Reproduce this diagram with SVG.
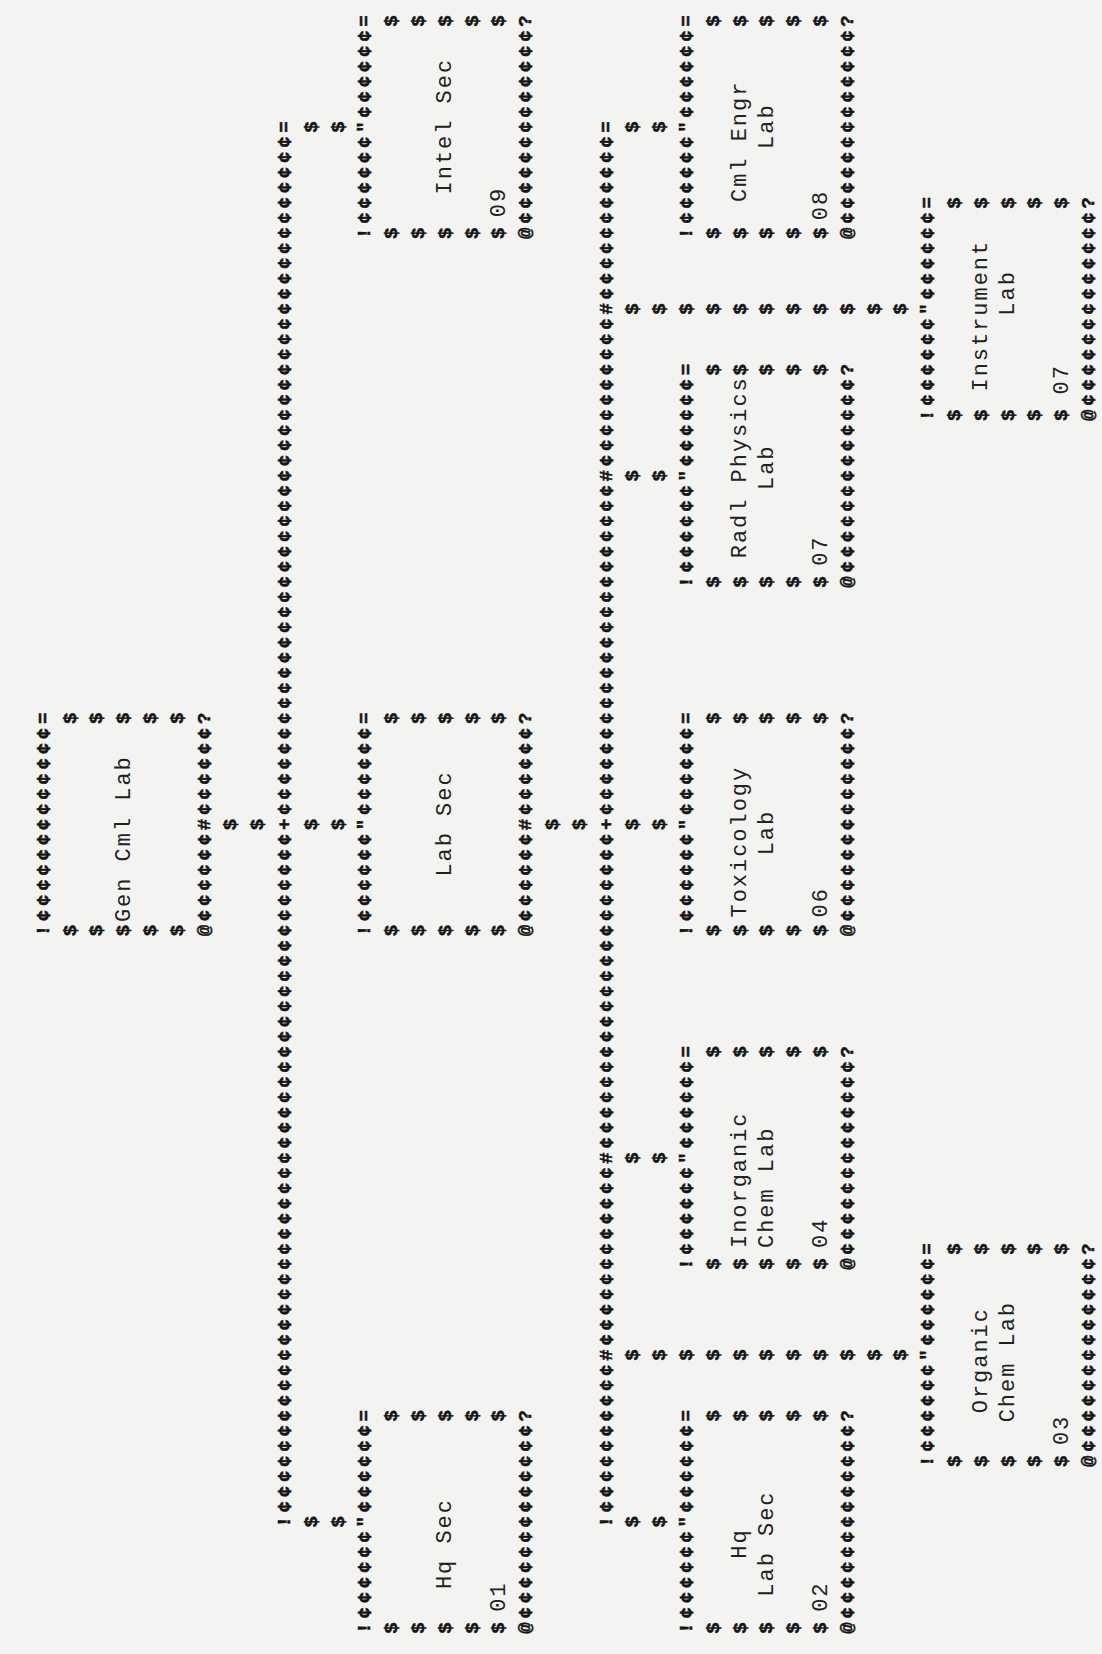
<svg xmlns="http://www.w3.org/2000/svg" width="1102" height="1654" viewBox="0 0 1102 1654">
<style>
.b{font-family:"Liberation Mono","DejaVu Sans Mono",monospace;font-size:19px;font-weight:bold;fill:#151515;stroke:#151515;stroke-width:0.5px;letter-spacing:3.76px;dominant-baseline:central}
.s{font-family:"Liberation Mono","DejaVu Sans Mono",monospace;font-size:19px;font-weight:bold;fill:#151515;stroke:#151515;stroke-width:0.5px;text-anchor:middle;dominant-baseline:central}
.l{font-family:"Liberation Mono","DejaVu Sans Mono",monospace;font-size:22px;fill:#222;letter-spacing:1.96px;dominant-baseline:central}
</style>
<rect width="1102" height="1654" fill="#f3f3f1"/>
<g id="diagram" transform="translate(0,824.5) rotate(-90)">
<g id="connectors">
<text class="s" x="0 0" y="231.4 258.2">$$</text>
<text class="b" x="-703.06" y="285">!¢¢¢¢¢¢¢¢¢¢¢¢¢¢¢¢¢¢¢¢¢¢¢¢¢¢¢¢¢¢¢¢¢¢¢¢¢¢¢¢¢¢¢¢¢+¢¢¢¢¢¢¢¢¢¢¢¢¢¢¢¢¢¢¢¢¢¢¢¢¢¢¢¢¢¢¢¢¢¢¢¢¢¢¢¢¢¢¢¢¢=</text>
<text class="s" x="-697.36 0 697.36 -697.36 0 697.36" y="311.8 311.8 311.8 338.6 338.6 338.6">$$$$$$</text>
<text class="s" x="0 0" y="553 579.8">$$</text>
<text class="b" x="-703.06" y="606.6">!¢¢¢¢¢¢¢¢¢¢#¢¢¢¢¢¢¢¢¢¢¢¢#¢¢¢¢¢¢¢¢¢¢¢¢¢¢¢¢¢¢¢¢¢+¢¢¢¢¢¢¢¢¢¢¢¢¢¢¢¢¢¢¢¢¢¢#¢¢¢¢¢¢¢¢¢¢#¢¢¢¢¢¢¢¢¢¢¢=</text>
<text class="s" x="-697.36 -333.52 0 348.68 697.36 -697.36 -333.52 0 348.68 697.36" y="633.4 633.4 633.4 633.4 633.4 660.2 660.2 660.2 660.2 660.2">$$$$$$$$$$</text>
<text class="s" x="-530.6 -530.6 -530.6 -530.6 -530.6 -530.6 -530.6 -530.6 -530.6 -530.6 -530.6" y="633.4 660.2 687 713.8 740.6 767.4 794.2 821 847.8 874.6 901.4">$$$$$$$$$$$</text>
<text class="s" x="515.44 515.44 515.44 515.44 515.44 515.44 515.44 515.44 515.44 515.44 515.44" y="633.4 660.2 687 713.8 740.6 767.4 794.2 821 847.8 874.6 901.4">$$$$$$$$$$$</text>
</g>
<g id="node-gen-cml-lab">
<text class="b" x="-111.82" y="43.8">!¢¢¢¢¢¢¢¢¢¢¢¢¢=</text>
<text class="s" x="-106.12 106.12 -106.12 106.12 -106.12 106.12 -106.12 106.12 -106.12 106.12" y="70.6 70.6 97.4 97.4 124.2 124.2 151 151 177.8 177.8">$$$$$$$$$$</text>
<text class="b" x="-111.82" y="204.6">@¢¢¢¢¢¢#¢¢¢¢¢¢?</text>
<text class="l" x="-97.56" y="124.2">Gen Cml Lab</text>
</g>
<g id="node-hq-sec">
<text class="b" x="-809.18" y="365.4">!¢¢¢¢¢¢"¢¢¢¢¢¢=</text>
<text class="s" x="-803.48 -591.24 -803.48 -591.24 -803.48 -591.24 -803.48 -591.24 -803.48 -591.24" y="392.2 392.2 419 419 445.8 445.8 472.6 472.6 499.4 499.4">$$$$$$$$$$</text>
<text class="b" x="-809.18" y="526.2">@¢¢¢¢¢¢¢¢¢¢¢¢¢?</text>
<text class="l" x="-764.6" y="445.8">Hq Sec</text>
<text class="l" x="-787.34" y="499.4">01</text>
</g>
<g id="node-lab-sec">
<text class="b" x="-111.82" y="365.4">!¢¢¢¢¢¢"¢¢¢¢¢¢=</text>
<text class="s" x="-106.12 106.12 -106.12 106.12 -106.12 106.12 -106.12 106.12 -106.12 106.12" y="392.2 392.2 419 419 445.8 445.8 472.6 472.6 499.4 499.4">$$$$$$$$$$</text>
<text class="b" x="-111.82" y="526.2">@¢¢¢¢¢¢#¢¢¢¢¢¢?</text>
<text class="l" x="-52.08" y="445.8">Lab Sec</text>
</g>
<g id="node-intel-sec">
<text class="b" x="585.54" y="365.4">!¢¢¢¢¢¢"¢¢¢¢¢¢=</text>
<text class="s" x="591.24 803.48 591.24 803.48 591.24 803.48 591.24 803.48 591.24 803.48" y="392.2 392.2 419 419 445.8 445.8 472.6 472.6 499.4 499.4">$$$$$$$$$$</text>
<text class="b" x="585.54" y="526.2">@¢¢¢¢¢¢¢¢¢¢¢¢¢?</text>
<text class="l" x="630.12" y="445.8">Intel Sec</text>
<text class="l" x="607.38" y="499.4">09</text>
</g>
<g id="node-hq-lab-sec">
<text class="b" x="-809.18" y="687">!¢¢¢¢¢¢"¢¢¢¢¢¢=</text>
<text class="s" x="-803.48 -591.24 -803.48 -591.24 -803.48 -591.24 -803.48 -591.24 -803.48 -591.24" y="713.8 713.8 740.6 740.6 767.4 767.4 794.2 794.2 821 821">$$$$$$$$$$</text>
<text class="b" x="-809.18" y="847.8">@¢¢¢¢¢¢¢¢¢¢¢¢¢?</text>
<text class="l" x="-734.28" y="740.6">Hq</text>
<text class="l" x="-772.18" y="767.4">Lab Sec</text>
<text class="l" x="-787.34" y="821">02</text>
</g>
<g id="node-inorganic-chem-lab">
<text class="b" x="-445.34" y="687">!¢¢¢¢¢¢"¢¢¢¢¢¢=</text>
<text class="s" x="-439.64 -227.4 -439.64 -227.4 -439.64 -227.4 -439.64 -227.4 -439.64 -227.4" y="713.8 713.8 740.6 740.6 767.4 767.4 794.2 794.2 821 821">$$$$$$$$$$</text>
<text class="b" x="-445.34" y="847.8">@¢¢¢¢¢¢¢¢¢¢¢¢¢?</text>
<text class="l" x="-423.5" y="740.6">Inorganic</text>
<text class="l" x="-423.5" y="767.4">Chem Lab</text>
<text class="l" x="-423.5" y="821">04</text>
</g>
<g id="node-toxicology-lab">
<text class="b" x="-111.82" y="687">!¢¢¢¢¢¢"¢¢¢¢¢¢=</text>
<text class="s" x="-106.12 106.12 -106.12 106.12 -106.12 106.12 -106.12 106.12 -106.12 106.12" y="713.8 713.8 740.6 740.6 767.4 767.4 794.2 794.2 821 821">$$$$$$$$$$</text>
<text class="b" x="-111.82" y="847.8">@¢¢¢¢¢¢¢¢¢¢¢¢¢?</text>
<text class="l" x="-93.01" y="740.6">Toxicology</text>
<text class="l" x="-30.86" y="767.4">Lab</text>
<text class="l" x="-93.01" y="821">06</text>
</g>
<g id="node-radl-physics-lab">
<text class="b" x="236.86" y="687">!¢¢¢¢¢¢"¢¢¢¢¢¢=</text>
<text class="s" x="242.56 454.8 242.56 454.8 242.56 454.8 242.56 454.8 242.56 454.8" y="713.8 713.8 740.6 740.6 767.4 767.4 794.2 794.2 821 821">$$$$$$$$$$</text>
<text class="b" x="236.86" y="847.8">@¢¢¢¢¢¢¢¢¢¢¢¢¢?</text>
<text class="l" x="266.28" y="740.6">Radl Physics</text>
<text class="l" x="334.5" y="767.4">Lab</text>
<text class="l" x="258.7" y="821">07</text>
</g>
<g id="node-cml-engr-lab">
<text class="b" x="585.54" y="687">!¢¢¢¢¢¢"¢¢¢¢¢¢=</text>
<text class="s" x="591.24 803.48 591.24 803.48 591.24 803.48 591.24 803.48 591.24 803.48" y="713.8 713.8 740.6 740.6 767.4 767.4 794.2 794.2 821 821">$$$$$$$$$$</text>
<text class="b" x="585.54" y="847.8">@¢¢¢¢¢¢¢¢¢¢¢¢¢?</text>
<text class="l" x="622.54" y="740.6">Cml Engr</text>
<text class="l" x="675.6" y="767.4">Lab</text>
<text class="l" x="604.35" y="821">08</text>
</g>
<g id="node-organic-chem-lab">
<text class="b" x="-642.42" y="928.2">!¢¢¢¢¢¢"¢¢¢¢¢¢=</text>
<text class="s" x="-636.72 -424.48 -636.72 -424.48 -636.72 -424.48 -636.72 -424.48 -636.72 -424.48" y="955 955 981.8 981.8 1008.6 1008.6 1035.4 1035.4 1062.2 1062.2">$$$$$$$$$$</text>
<text class="b" x="-642.42" y="1089">@¢¢¢¢¢¢¢¢¢¢¢¢¢?</text>
<text class="l" x="-588.74" y="981.8">Organic</text>
<text class="l" x="-597.84" y="1008.6">Chem Lab</text>
<text class="l" x="-620.58" y="1062.2">03</text>
</g>
<g id="node-instrument-lab">
<text class="b" x="403.62" y="928.2">!¢¢¢¢¢¢"¢¢¢¢¢¢=</text>
<text class="s" x="409.32 621.56 409.32 621.56 409.32 621.56 409.32 621.56 409.32 621.56" y="955 955 981.8 981.8 1008.6 1008.6 1035.4 1035.4 1062.2 1062.2">$$$$$$$$$$</text>
<text class="b" x="403.62" y="1089">@¢¢¢¢¢¢¢¢¢¢¢¢¢?</text>
<text class="l" x="433.04" y="981.8">Instrument</text>
<text class="l" x="508.84" y="1008.6">Lab</text>
<text class="l" x="430.01" y="1062.2">07</text>
</g>
</g>
</svg>
